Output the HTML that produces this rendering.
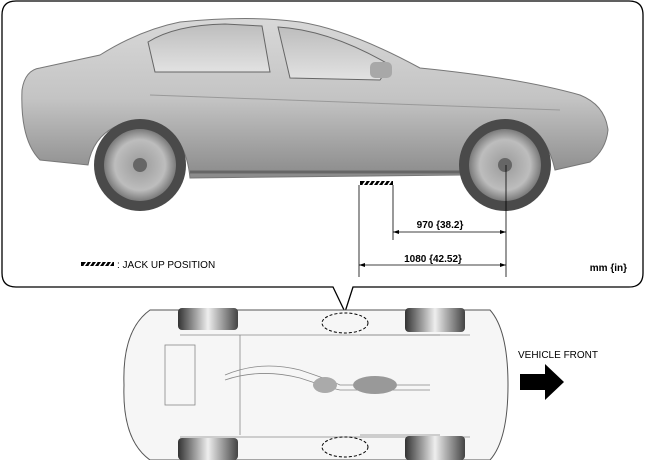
<!DOCTYPE html>
<html><head><style>
html,body{margin:0;padding:0;background:#fff;}
svg{display:block;font-family:"Liberation Sans",Arial,sans-serif;}
</style></head><body>
<svg width="645" height="460" viewBox="0 0 645 460" xmlns="http://www.w3.org/2000/svg">
<defs>
<linearGradient id="body" x1="0" y1="0" x2="0" y2="1">
<stop offset="0" stop-color="#d8d8d8"/><stop offset="0.5" stop-color="#c4c4c4"/><stop offset="1" stop-color="#8a8a8a"/>
</linearGradient>
<linearGradient id="glass" x1="0" y1="0" x2="0" y2="1">
<stop offset="0" stop-color="#bdbdbd"/><stop offset="1" stop-color="#e2e2e2"/>
</linearGradient>
<radialGradient id="rim"><stop offset="0" stop-color="#9a9a9a"/><stop offset="0.7" stop-color="#bdbdbd"/><stop offset="1" stop-color="#7a7a7a"/></radialGradient>
<linearGradient id="tire" x1="0" y1="0" x2="1" y2="0">
<stop offset="0" stop-color="#333"/><stop offset="0.5" stop-color="#eee"/><stop offset="1" stop-color="#444"/>
</linearGradient>
</defs>
<!-- callout -->
<path d="M16,1 H629 Q643,1 643,15 V273 Q643,287 629,287 H353 L345,312 L333,287 H16 Q2,287 2,273 V15 Q2,1 16,1 Z" fill="#fff" stroke="#000" stroke-width="1.3"/>
<!-- car side -->
<path d="M22,90 Q25,70 40,68 L100,55 Q140,30 180,22 Q250,15 300,22 Q350,30 420,68 Q520,78 580,95 Q605,105 608,130 Q606,150 590,162 L555,170 Q545,125 510,120 Q470,122 462,175 L190,178 Q185,125 140,120 Q95,125 88,165 L40,160 Q20,140 22,90 Z" fill="url(#body)" stroke="#777" stroke-width="1"/>
<path d="M148,42 Q175,25 225,24 L262,26 L270,72 L155,72 Z" fill="url(#glass)" stroke="#666"/>
<path d="M278,27 Q330,30 390,65 L380,80 L290,78 Z" fill="url(#glass)" stroke="#666"/>
<line x1="150" y1="95" x2="560" y2="110" stroke="#999"/>
<line x1="190" y1="172" x2="462" y2="172" stroke="#666" stroke-width="3"/>
<rect x="370" y="62" width="22" height="16" rx="5" fill="#a8a8a8"/>
<circle cx="140" cy="165" r="46" fill="#4a4a4a"/><circle cx="140" cy="165" r="36" fill="url(#rim)"/><circle cx="140" cy="165" r="7" fill="#666"/>
<circle cx="505" cy="165" r="46" fill="#4a4a4a"/><circle cx="505" cy="165" r="36" fill="url(#rim)"/><circle cx="505" cy="165" r="7" fill="#666"/>
<!-- jack mark -->
<rect x="360" y="181" width="33" height="4" fill="#000"/>
<path d="M363,185 l3,-4 M368,185 l3,-4 M373,185 l3,-4 M378,185 l3,-4 M383,185 l3,-4 M388,185 l3,-4" stroke="#fff" stroke-width="1.5"/>
<!-- dims -->
<g stroke="#000" stroke-width="0.8" fill="none">
<line x1="359" y1="185" x2="359" y2="277"/>
<line x1="393" y1="185" x2="393" y2="240"/>
<line x1="506" y1="165" x2="506" y2="277"/>
<line x1="393" y1="232" x2="506" y2="232"/>
<line x1="359" y1="265" x2="506" y2="265"/>
</g>
<g fill="#000">
<path d="M393,232 l6,-2 v4z"/><path d="M506,232 l-6,-2 v4z"/>
<path d="M359,265 l6,-2 v4z"/><path d="M506,265 l-6,-2 v4z"/>
</g>
<text x="440" y="228" font-size="10" font-weight="bold" text-anchor="middle">970 {38.2}</text>
<text x="433" y="262" font-size="10" font-weight="bold" text-anchor="middle">1080 {42.52}</text>
<text x="627" y="271" font-size="10" font-weight="bold" text-anchor="end">mm {in}</text>
<rect x="81" y="262" width="33" height="4" fill="#000"/>
<path d="M84,266 l3,-4 M89,266 l3,-4 M94,266 l3,-4 M99,266 l3,-4 M104,266 l3,-4 M109,266 l3,-4" stroke="#fff" stroke-width="1.5"/>
<text x="117" y="268" font-size="10">: JACK UP POSITION</text>
<!-- underbody -->
<path d="M150,310 L490,310 Q508,330 508,385 Q508,440 490,460 L150,460 Q122,440 124,385 Q122,330 150,310 Z" fill="#f6f6f6" stroke="#555"/>
<g stroke="#888" fill="none" stroke-width="0.8">
<rect x="165" y="345" width="30" height="60"/>
<path d="M225,375 Q260,360 300,370 Q330,380 340,385 H430"/>
<path d="M225,380 Q260,368 300,378 Q330,388 340,390 H430"/>
<line x1="240" y1="335" x2="240" y2="435"/>
<line x1="360" y1="335" x2="440" y2="335"/>
<line x1="360" y1="435" x2="440" y2="435"/>
<line x1="180" y1="335" x2="470" y2="335"/>
<line x1="180" y1="437" x2="470" y2="437"/>
</g>
<ellipse cx="375" cy="385" rx="22" ry="9" fill="#999"/>
<ellipse cx="325" cy="385" rx="12" ry="8" fill="#aaa"/>
<rect x="178" y="308" width="60" height="22" rx="4" fill="url(#tire)"/>
<rect x="178" y="438" width="60" height="22" rx="4" fill="url(#tire)"/>
<rect x="405" y="308" width="60" height="24" rx="4" fill="url(#tire)"/>
<rect x="405" y="436" width="60" height="24" rx="4" fill="url(#tire)"/>
<ellipse cx="345" cy="323" rx="23" ry="10" fill="none" stroke="#000" stroke-dasharray="3,2"/>
<ellipse cx="345" cy="447" rx="23" ry="10" fill="none" stroke="#000" stroke-dasharray="3,2"/>
<!-- vehicle front -->
<text x="518" y="358" font-size="10">VEHICLE FRONT</text>
<path d="M520,374 H545 V364 L564,382 L545,400 V390 H520 Z" fill="#000"/>
</svg>
</body></html>
